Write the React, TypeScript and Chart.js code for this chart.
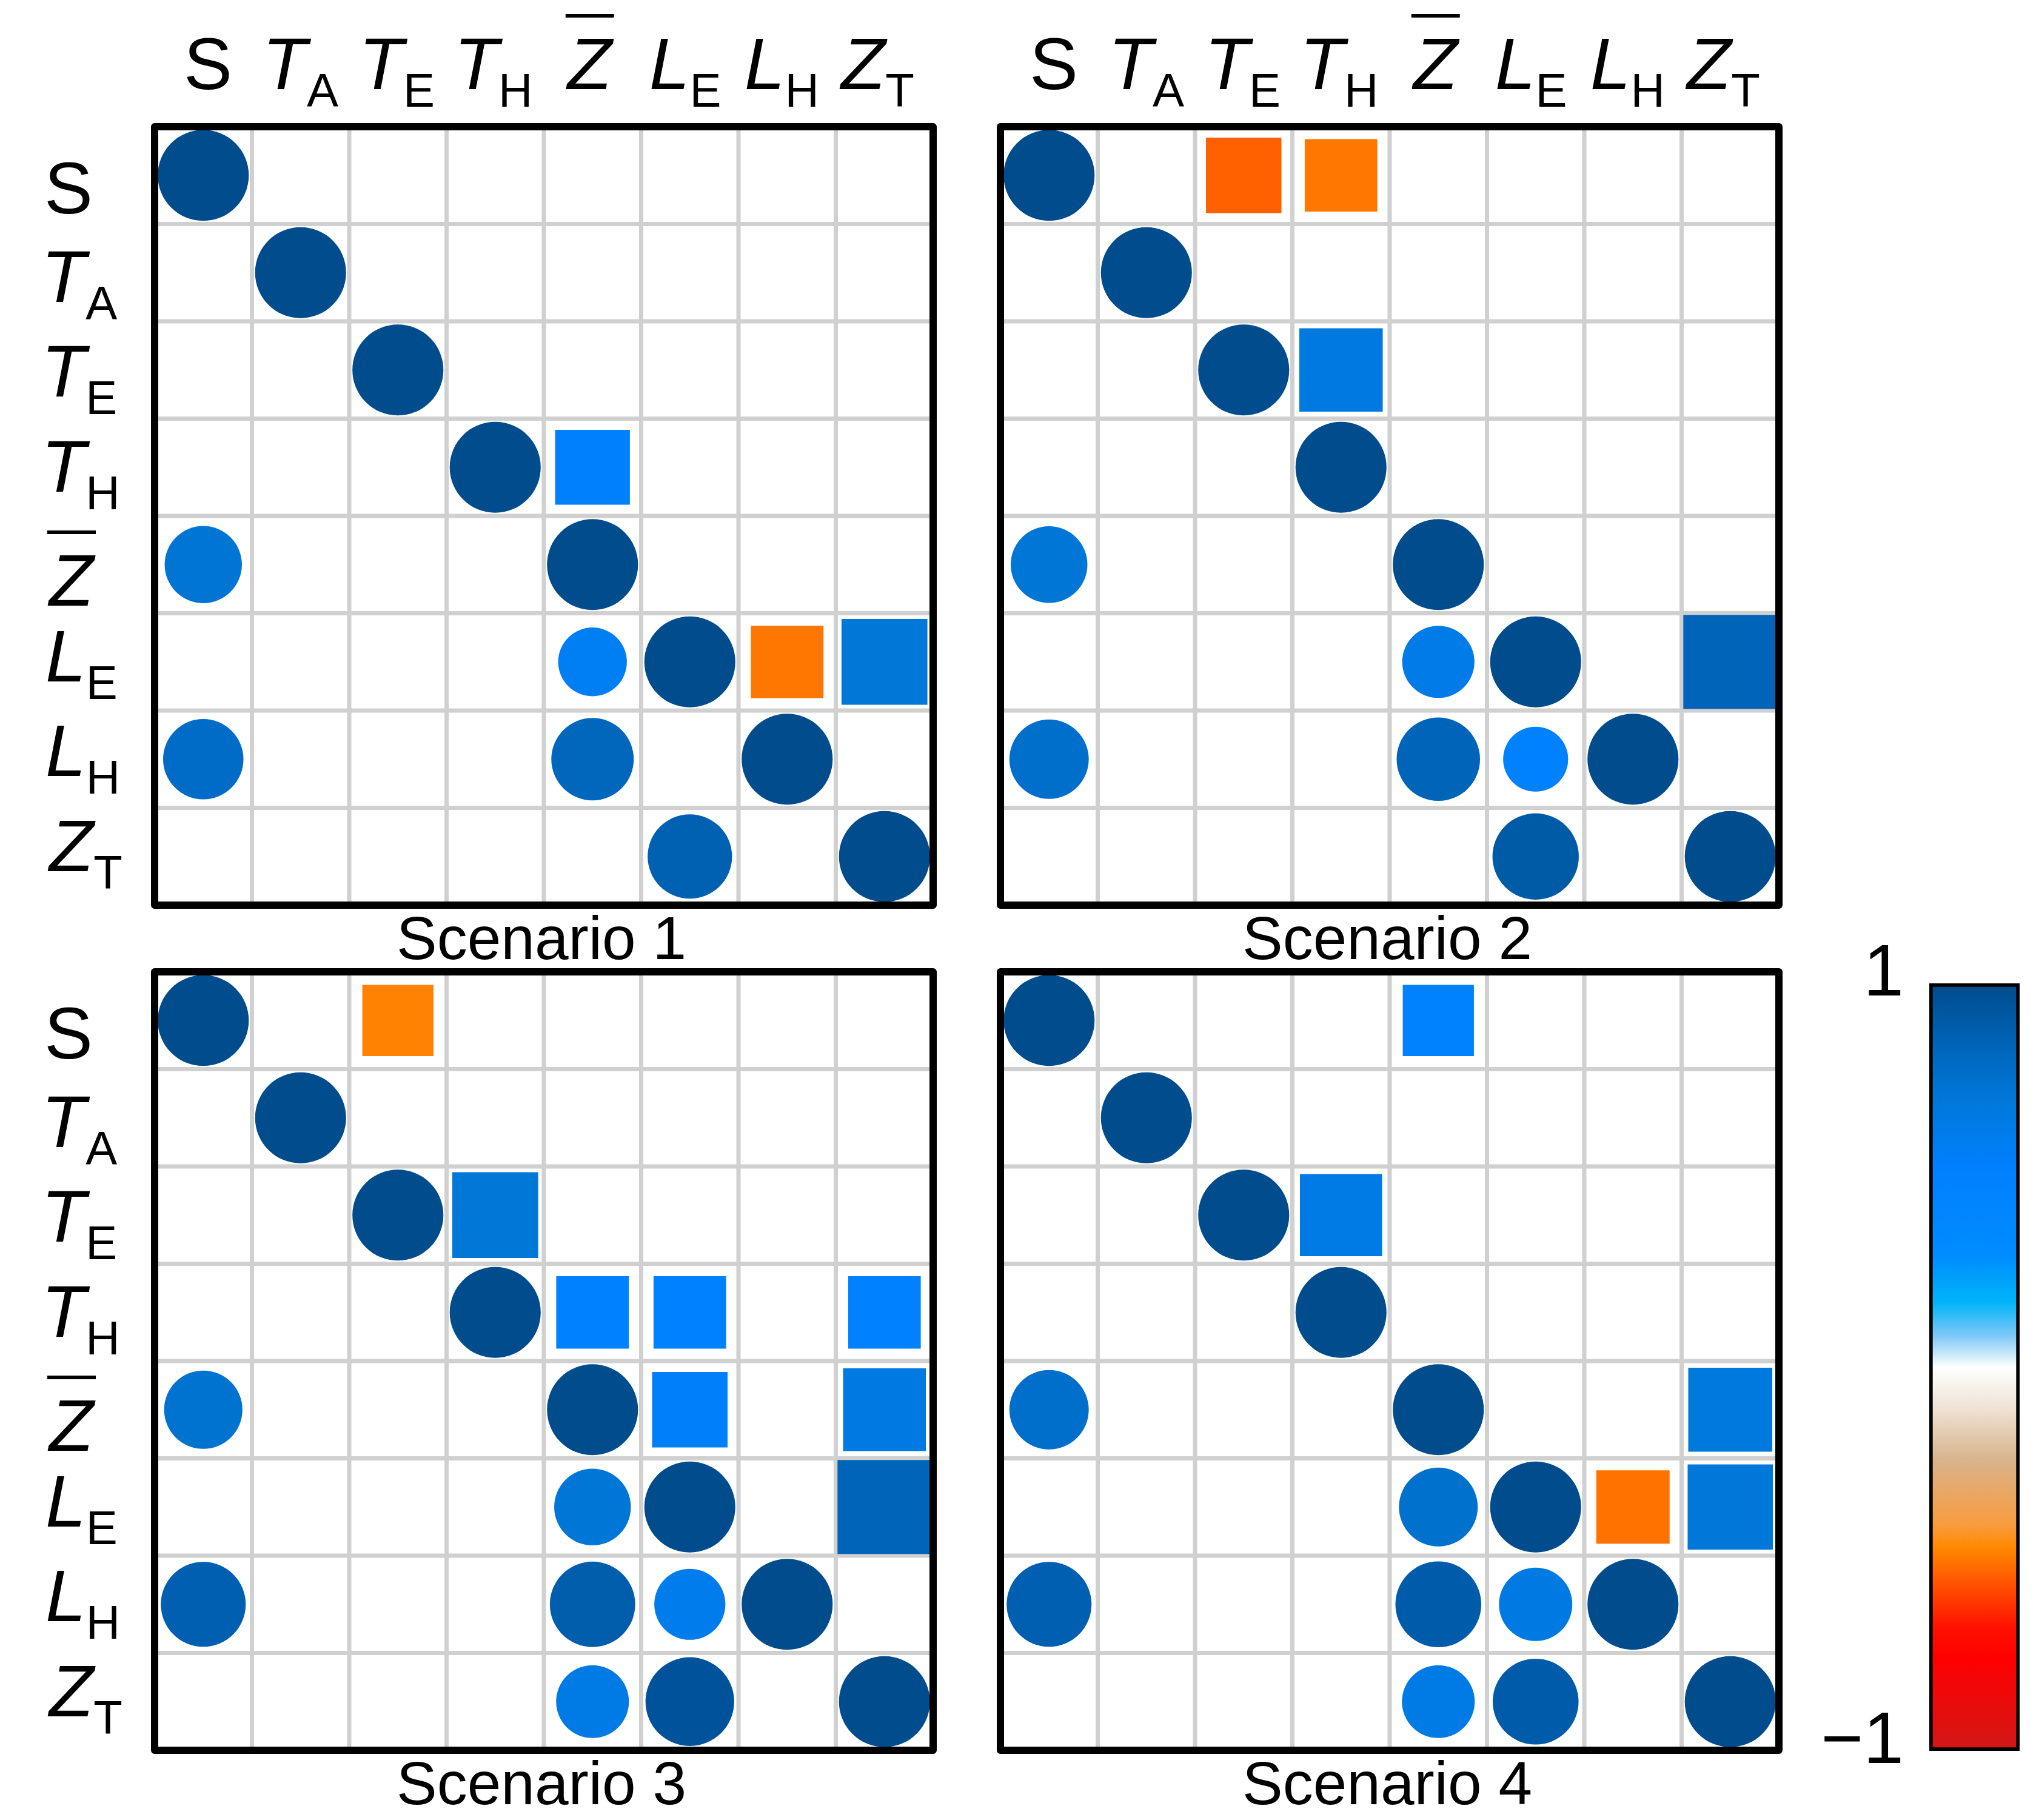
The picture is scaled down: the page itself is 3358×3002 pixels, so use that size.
import React, { useEffect, useRef } from 'react';
import { Chart, registerables } from 'chart.js';

Chart.register(...registerables);

// ---------- data ----------
const VAR_MAIN = ['S', 'T', 'T', 'T', 'Z', 'L', 'L', 'Z'];
const VAR_SUB = ['', 'A', 'E', 'H', '', 'E', 'H', 'T'];
const VAR_ITALIC = [false, true, true, true, true, true, true, true];
const VAR_BAR = [false, false, false, false, true, false, false, false];

const SCENARIO_TITLES = ['Scenario 1', 'Scenario 2', 'Scenario 3', 'Scenario 4'];

// [row, column, value]
const SCENARIO_1 = [
  [0, 0, 1], [1, 1, 1], [2, 2, 1], [3, 3, 1], [4, 4, 1], [5, 5, 1], [6, 6, 1], [7, 7, 1],
  [3, 4, 0.53], [4, 0, 0.72], [5, 4, 0.57], [5, 6, -0.5], [5, 7, 0.7],
  [6, 0, 0.78], [6, 4, 0.82], [7, 5, 0.86],
];
const SCENARIO_2 = [
  [0, 0, 1], [1, 1, 1], [2, 2, 1], [3, 3, 1], [4, 4, 1], [5, 5, 1], [6, 6, 1], [7, 7, 1],
  [0, 2, -0.54], [0, 3, -0.5], [2, 3, 0.66], [4, 0, 0.71], [5, 4, 0.63], [5, 7, 0.84],
  [6, 0, 0.76], [6, 4, 0.84], [6, 5, 0.51], [7, 5, 0.9],
];
const SCENARIO_3 = [
  [0, 0, 1], [1, 1, 1], [2, 2, 1], [3, 3, 1], [4, 4, 1], [5, 5, 1], [6, 6, 1], [7, 7, 1],
  [0, 2, -0.48], [2, 3, 0.7], [3, 4, 0.5], [3, 5, 0.5], [3, 7, 0.5], [4, 0, 0.74],
  [4, 5, 0.54], [4, 7, 0.65], [5, 4, 0.71], [5, 7, 0.84], [6, 0, 0.87], [6, 4, 0.88],
  [6, 5, 0.61], [7, 4, 0.64], [7, 5, 0.95],
];
const SCENARIO_4 = [
  [0, 0, 1], [1, 1, 1], [2, 2, 1], [3, 3, 1], [4, 4, 1], [5, 5, 1], [6, 6, 1], [7, 7, 1],
  [0, 4, 0.48], [2, 3, 0.64], [4, 0, 0.76], [4, 7, 0.67], [5, 4, 0.75], [5, 6, -0.51],
  [5, 7, 0.69], [6, 0, 0.87], [6, 4, 0.89], [6, 5, 0.65], [7, 4, 0.64], [7, 5, 0.89],
];

const COLORBAR_TICKS = [-1, 1];
const COLORBAR_TICK_LABELS = ['\u22121', '1'];

// colour map (value -> colour)
const STOP_VALUES = [1, 0.81, 0.7, 0.52, 0.29, 0.17, 0.08, 0, -0.1, -0.24, -0.32, -0.41, -0.47, -0.57, -0.68, -0.76, -0.93, -1];
const STOP_COLORS = ['#004c8c', '#0068c0', '#0078d8', '#0080ff', '#008cff', '#00b4f8', '#80c8f8', '#ffffff', '#f0e4d8', '#d8b48c', '#e8a868', '#f89c40', '#ff8800', '#ff5000', '#ff1000', '#ff0000', '#e01010', '#d01818'];

// ---------- helpers ----------
const FONT_FAMILY = "'Liberation Sans', Arial, sans-serif";
const MAIN_FONT = `120px ${FONT_FAMILY}`;
const ITALIC_FONT = `italic 120px ${FONT_FAMILY}`;
const SUB_FONT = `78px ${FONT_FAMILY}`;
const TITLE_FONT = `100px ${FONT_FAMILY}`;

function hexToRgb(h: string) {
  const n = parseInt(h.slice(1), 16);
  return [(n >> 16) & 255, (n >> 8) & 255, n & 255];
}

function colorFor(v: number) {
  const val = Math.max(-1, Math.min(1, v));
  for (let i = 0; i < STOP_VALUES.length - 1; i++) {
    const a = STOP_VALUES[i];
    const b = STOP_VALUES[i + 1];
    if (val <= a && val >= b) {
      const t = a === b ? 0 : (a - val) / (a - b);
      const ca = hexToRgb(STOP_COLORS[i]);
      const cb = hexToRgb(STOP_COLORS[i + 1]);
      const c = ca.map((x, k) => Math.round(x + (cb[k] - x) * t));
      return `rgb(${c[0]},${c[1]},${c[2]})`;
    }
  }
  return STOP_COLORS[STOP_COLORS.length - 1];
}

function cellSize(chart: any) {
  const x = chart.scales.x;
  return Math.abs(x.getPixelForValue(1) - x.getPixelForValue(0));
}

function drawVar(ctx: CanvasRenderingContext2D, i: number, align: string, x: number, baseline: number) {
  ctx.textAlign = 'left';
  ctx.textBaseline = 'alphabetic';
  const mainFont = VAR_ITALIC[i] ? ITALIC_FONT : MAIN_FONT;
  ctx.font = mainFont;
  const m = ctx.measureText(VAR_MAIN[i]);
  let sm: TextMetrics | null = null;
  if (VAR_SUB[i]) {
    ctx.font = SUB_FONT;
    sm = ctx.measureText(VAR_SUB[i]);
  }
  const inkL = -m.actualBoundingBoxLeft;
  const inkR = sm ? Math.max(m.actualBoundingBoxRight, m.width + sm.actualBoundingBoxRight) : m.actualBoundingBoxRight;
  let ox = x;
  if (align === 'center') {
    ox = x - (inkL + inkR) / 2;
  } else {
    // left: align the ink's left edge to x
    ox = x - inkL;
  }
  ctx.font = mainFont;
  ctx.fillText(VAR_MAIN[i], ox, baseline);
  if (sm) {
    ctx.font = SUB_FONT;
    ctx.fillText(VAR_SUB[i], ox + m.width, baseline + 29);
  }
  if (VAR_BAR[i]) {
    ctx.fillRect(ox - m.actualBoundingBoxLeft, baseline - 124, m.actualBoundingBoxLeft + m.actualBoundingBoxRight, 6);
  }
}

const decorPlugin = {
  id: 'corrDecor',
  beforeDatasetsDraw(chart: any) {
    const { ctx, chartArea: a, scales } = chart;
    ctx.save();
    ctx.strokeStyle = '#d0d0d0';
    ctx.lineWidth = 7;
    for (let k = 0; k <= 8; k++) {
      const v = k - 0.5;
      const px = scales.x.getPixelForValue(v);
      const py = scales.y.getPixelForValue(v);
      ctx.beginPath();
      ctx.moveTo(px, a.top);
      ctx.lineTo(px, a.bottom);
      ctx.stroke();
      ctx.beginPath();
      ctx.moveTo(a.left, py);
      ctx.lineTo(a.right, py);
      ctx.stroke();
    }
    ctx.restore();
  },
  afterDraw(chart: any, _args: any, opts: any) {
    const { ctx, chartArea: a } = chart;
    const cell = cellSize(chart);
    ctx.save();
    ctx.strokeStyle = '#000';
    ctx.lineWidth = 12;
    ctx.lineJoin = 'round';
    ctx.strokeRect(a.left, a.top, a.right - a.left, a.bottom - a.top);
    ctx.fillStyle = '#000';
    if (opts.colLabels) {
      for (let j = 0; j < VAR_MAIN.length; j++) {
        const cx = a.left + cell * (0.981 * j + 0.548);
        drawVar(ctx, j, 'center', cx, a.top - 62);
      }
    }
    if (opts.rowLabels) {
      for (let i = 0; i < VAR_MAIN.length; i++) {
        const cy = a.top + cell * (0.975 * i + 0.648);
        const baseline = cy + (VAR_BAR[i] ? 60 : VAR_SUB[i] ? 28.5 : 39);
        drawVar(ctx, i, 'left', a.left - 177, baseline);
      }
    }
    ctx.font = TITLE_FONT;
    ctx.textAlign = 'center';
    ctx.textBaseline = 'alphabetic';
    ctx.fillText(opts.title, (a.left + a.right) / 2 - 4, a.bottom + 89);
    ctx.restore();
  },
};

function CorrPanel({ cells, title, rowLabels, colLabels, frame }: any) {
  const ref = useRef<HTMLCanvasElement>(null);
  useEffect(() => {
    const circles = cells.filter((c: number[]) => c[0] >= c[1]).map((c: number[]) => ({ x: c[1], y: c[0], v: c[2] }));
    const squares = cells.filter((c: number[]) => c[0] < c[1]).map((c: number[]) => ({ x: c[1], y: c[0], v: c[2] }));
    const chart = new Chart(ref.current as HTMLCanvasElement, {
      type: 'scatter',
      data: {
        datasets: [
          {
            data: circles,
            pointStyle: 'circle',
            pointRadius: (ctx: any) => (0.935 * Math.sqrt(Math.abs(ctx.raw.v)) * cellSize(ctx.chart)) / 2,
            pointBackgroundColor: (ctx: any) => colorFor(ctx.raw.v),
            pointBorderWidth: 0,
            clip: false,
          } as any,
          {
            data: squares,
            pointStyle: 'rect',
            pointRadius: (ctx: any) => {
              const side = Math.min(1.055 * Math.sqrt(Math.abs(ctx.raw.v)), 0.965) * cellSize(ctx.chart);
              return side / Math.SQRT2;
            },
            pointBackgroundColor: (ctx: any) => colorFor(ctx.raw.v),
            pointBorderWidth: 0,
            clip: false,
          } as any,
        ],
      },
      options: {
        responsive: false,
        animation: false,
        devicePixelRatio: 1,
        events: [],
        layout: { padding: frame.pad },
        scales: {
          x: { type: 'linear', min: -0.5, max: 7.5, display: false },
          y: { type: 'linear', min: -0.5, max: 7.5, reverse: true, display: false },
        },
        plugins: {
          legend: { display: false },
          tooltip: { enabled: false },
          corrDecor: { title, rowLabels, colLabels },
        } as any,
      },
      plugins: [decorPlugin],
    } as any);
    return () => chart.destroy();
  }, []);
  return (
    <canvas
      ref={ref}
      width={frame.w}
      height={frame.h}
      style={{ position: 'absolute', left: frame.x, top: frame.y, width: frame.w, height: frame.h }}
    />
  );
}

function ColorBar({ frame }: any) {
  const ref = useRef<HTMLCanvasElement>(null);
  useEffect(() => {
    const chart = new Chart(ref.current as HTMLCanvasElement, {
      type: 'bar',
      data: {
        labels: [''],
        datasets: [
          {
            data: [[COLORBAR_TICKS[0], COLORBAR_TICKS[1]]],
            backgroundColor: (ctx: any) => {
              const c = ctx.chart;
              if (!c.chartArea) return '#ffffff';
              const ys = c.scales.y;
              const g = c.ctx.createLinearGradient(0, ys.getPixelForValue(1), 0, ys.getPixelForValue(-1));
              STOP_VALUES.forEach((v, i) => g.addColorStop((1 - v) / 2, STOP_COLORS[i]));
              return g;
            },
            borderColor: '#000',
            borderWidth: 6,
            borderSkipped: false,
            categoryPercentage: 1,
            barPercentage: 1,
          } as any,
        ],
      },
      options: {
        responsive: false,
        animation: false,
        devicePixelRatio: 1,
        events: [],
        layout: { padding: frame.pad },
        scales: {
          x: { display: false },
          y: {
            min: -1,
            max: 1,
            position: 'left',
            grid: { display: false, drawTicks: false },
            border: { display: false },
            afterBuildTicks: (s: any) => {
              s.ticks = COLORBAR_TICKS.map((v) => ({ value: v }));
            },
            afterFit: (s: any) => {
              s.width = 182;
            },
            ticks: {
              padding: 42,
              labelOffset: -13,
              color: '#000',
              font: { family: FONT_FAMILY, size: 120 },
              callback: (v: any) => {
                const k = COLORBAR_TICKS.indexOf(Number(v));
                return k >= 0 ? COLORBAR_TICK_LABELS[k] : '';
              },
            },
          },
        },
        plugins: { legend: { display: false }, tooltip: { enabled: false } },
      },
    } as any);
    return () => chart.destroy();
  }, []);
  return (
    <canvas
      ref={ref}
      width={frame.w}
      height={frame.h}
      style={{ position: 'absolute', left: frame.x, top: frame.y, width: frame.w, height: frame.h }}
    />
  );
}

const FRAMES = [
  { x: 0, y: 0, w: 1600, h: 1600, pad: { left: 255, top: 209, right: 61, bottom: 107 } },
  { x: 1600, y: 0, w: 1400, h: 1600, pad: { left: 50, top: 209, right: 66, bottom: 107 } },
  { x: 0, y: 1500, w: 1600, h: 1502, pad: { left: 255, top: 103, right: 61, bottom: 115 } },
  { x: 1600, y: 1500, w: 1400, h: 1502, pad: { left: 50, top: 103, right: 66, bottom: 115 } },
];
const COLORBAR_FRAME = { x: 3000, y: 1500, w: 358, h: 1502, pad: { left: 0, top: 122, right: 27, bottom: 112 } };

export default function App() {
  return (
    <div style={{ position: 'absolute', left: 0, top: 0, width: 3358, height: 3002, background: '#ffffff', overflow: 'hidden' }}>
      <CorrPanel cells={SCENARIO_1} title={SCENARIO_TITLES[0]} rowLabels={true} colLabels={true} frame={FRAMES[0]} />
      <CorrPanel cells={SCENARIO_2} title={SCENARIO_TITLES[1]} rowLabels={false} colLabels={true} frame={FRAMES[1]} />
      <CorrPanel cells={SCENARIO_3} title={SCENARIO_TITLES[2]} rowLabels={true} colLabels={false} frame={FRAMES[2]} />
      <CorrPanel cells={SCENARIO_4} title={SCENARIO_TITLES[3]} rowLabels={false} colLabels={false} frame={FRAMES[3]} />
      <ColorBar frame={COLORBAR_FRAME} />
    </div>
  );
}
